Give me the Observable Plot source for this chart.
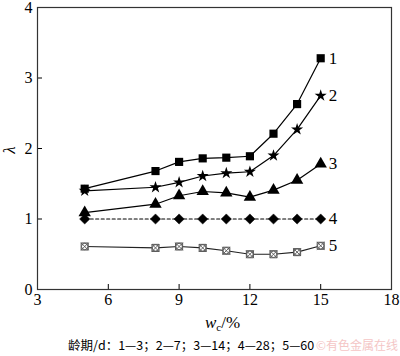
<!DOCTYPE html>
<html><head><meta charset="utf-8">
<script src="https://cdn.jsdelivr.net/npm/d3@7"></script>
<script src="https://cdn.jsdelivr.net/npm/@observablehq/plot@0.6"></script>
<style>body{margin:0;background:#fff}</style></head>
<body><div id="c"></div>
<script>
const wc = [5, 8, 9, 10, 11, 12, 13, 14, 15];
const s1 = [1.43, 1.68, 1.81, 1.86, 1.87, 1.89, 2.21, 2.63, 3.28];
const s2 = [1.40, 1.45, 1.52, 1.61, 1.65, 1.67, 1.90, 2.27, 2.75];
const s3 = [1.09, 1.21, 1.33, 1.39, 1.37, 1.31, 1.41, 1.55, 1.78];
const s4 = [1.00, 1.00, 1.00, 1.00, 1.00, 1.00, 1.00, 1.00, 1.00];
const s5 = [0.61, 0.59, 0.61, 0.59, 0.55, 0.50, 0.50, 0.53, 0.62];
const seriesNames = ["1", "2", "3", "4", "5"];
const xTicks = [3, 6, 9, 12, 15, 18];
const yTicks = [0, 1, 2, 3, 4];
const caption = "龄期/d：1—3；2—7；3—14；4—28；5—60";
const watermark = "©有色金属在线";

const all = [s1, s2, s3, s4, s5];
const rows = [];
all.forEach((s, i) => s.forEach((v, j) => rows.push({series: seriesNames[i], x: wc[j], y: v})));
const bySeries = k => rows.filter(d => d.series === k);
const last = seriesNames.map((k, i) => ({series: k, x: wc[wc.length - 1], y: all[i][all[i].length - 1]}));

const chart = Plot.plot({
  width: 400, height: 356,
  marginLeft: 37, marginRight: 9, marginTop: 7, marginBottom: 67,
  style: {fontFamily: "Liberation Serif", fontSize: "15px", background: "#fff", color: "#000"},
  x: {domain: [3, 18]},
  y: {domain: [0, 4]},
  marks: [
    Plot.axisX({ticks: xTicks, tickFormat: "d", tickSize: -5, tickPadding: 9, label: null, fontSize: 16}),
    Plot.axisY({ticks: yTicks, tickFormat: "d", tickSize: -5, tickPadding: 10, label: null, fontSize: 16}),
    Plot.frame({stroke: "#333", strokeWidth: 1.2}),
    Plot.line(bySeries("1"), {x: "x", y: "y", stroke: "#000", strokeWidth: 1.2}),
    Plot.line(bySeries("2"), {x: "x", y: "y", stroke: "#000", strokeWidth: 1.2}),
    Plot.line(bySeries("3"), {x: "x", y: "y", stroke: "#000", strokeWidth: 1.2}),
    Plot.line(bySeries("4"), {x: "x", y: "y", stroke: "#000", strokeWidth: 1.2, strokeDasharray: "3,2.5"}),
    Plot.line(bySeries("5"), {x: "x", y: "y", stroke: "#222", strokeWidth: 1.2}),
    Plot.dot(bySeries("1"), {x: "x", y: "y", symbol: "square", r: 4.6, fill: "#000"}),
    Plot.dot(bySeries("2"), {x: "x", y: "y", symbol: "star", r: 3.8, fill: "#000"}),
    Plot.dot(bySeries("3"), {x: "x", y: "y", symbol: "triangle", r: 4.6, fill: "#000"}),
    Plot.dot(bySeries("4"), {x: "x", y: "y", symbol: "diamond2", r: 4.6, fill: "#000", stroke: "#000", strokeWidth: 0.5}),
    Plot.dot(bySeries("5"), {x: "x", y: "y", symbol: "square2", r: 4.5, fill: "#fff", stroke: "#555", strokeWidth: 1}),
    Plot.dot(bySeries("5"), {x: "x", y: "y", symbol: "circle", r: 3.2, fill: "none", stroke: "#555", strokeWidth: 0.9}),
    Plot.dot(bySeries("5"), {x: "x", y: "y", symbol: "times", r: 3.6, stroke: "#555", strokeWidth: 0.9}),
    Plot.text(last, {x: "x", y: "y", text: "series", dx: 8, textAnchor: "start", fontSize: 17})
  ]
});
document.getElementById("c").appendChild(chart);

const svg = d3.select(chart);
svg.append("text").attr("transform", "translate(15,150) rotate(-90)")
  .attr("text-anchor", "middle").attr("font-family", "Liberation Serif").attr("font-style", "italic")
  .attr("font-size", 17).attr("fill", "#000").text("λ");
const xl = svg.append("text").attr("x", 205).attr("y", 328).attr("text-anchor", "start")
  .attr("font-family", "Liberation Serif").attr("font-size", 17).attr("fill", "#000");
xl.append("tspan").attr("font-style", "italic").text("w");
xl.append("tspan").attr("font-size", 11).attr("dy", 3).text("c");
xl.append("tspan").attr("dy", -3).text("/%");
svg.append("text").attr("x", 68).attr("y", 350).attr("text-anchor", "start").attr("font-family", "Noto Sans CJK SC")
  .attr("font-size", 12.5).attr("fill", "#000").text(caption);
svg.append("text").attr("x", 398).attr("y", 350).attr("text-anchor", "end").attr("font-family", "Noto Sans CJK SC")
  .attr("font-size", 12).attr("fill", "#f2b8b8").attr("opacity", 0.8).text(watermark);
</script></body></html>
